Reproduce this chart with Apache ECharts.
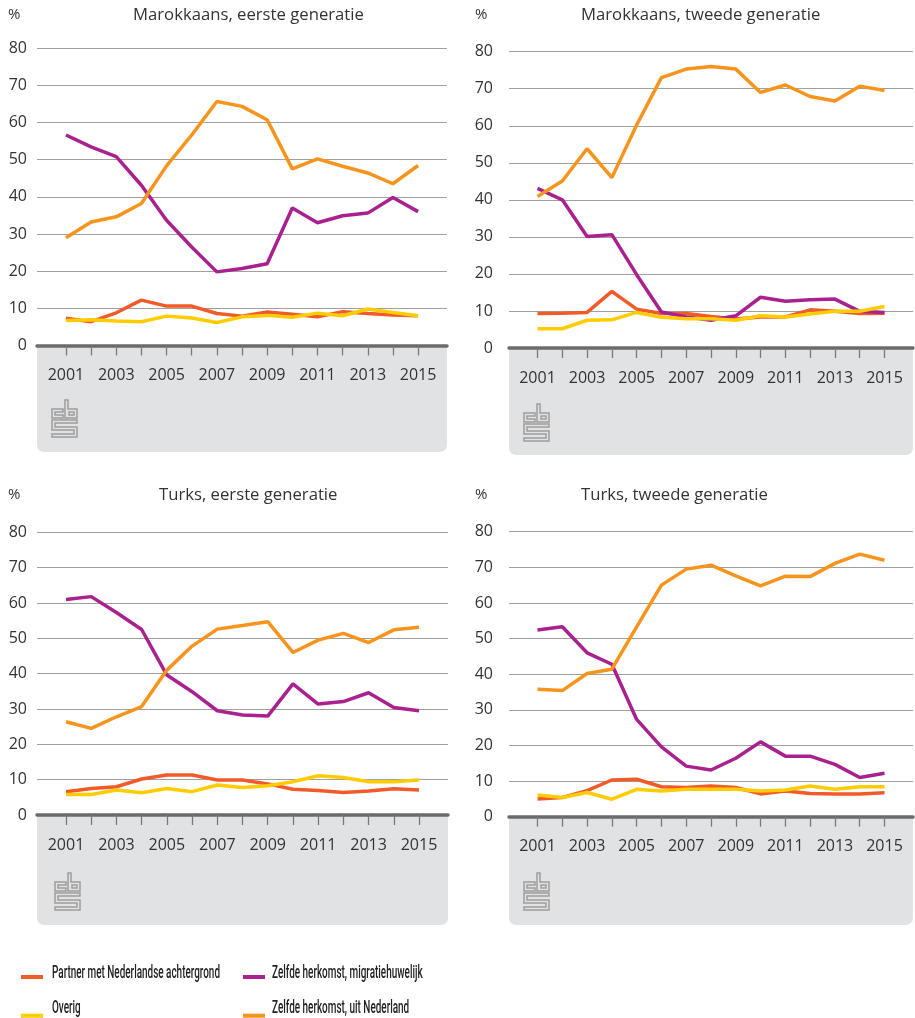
<!DOCTYPE html>
<html>
<head>
<meta charset="utf-8">
<script src="https://cdn.jsdelivr.net/npm/echarts@6/dist/echarts.min.js"></script>
<style>
  html, body { margin: 0; padding: 0; background: #fff; }
  #chart { width: 915px; height: 1018px; }
</style>
</head>
<body>
<div id="chart"></div>
<script>
// jaren op de x-as
const years = [2001, 2002, 2003, 2004, 2005, 2006, 2007, 2008, 2009, 2010, 2011, 2012, 2013, 2014, 2015]
const yearLabels = [2001, 2003, 2005, 2007, 2009, 2011, 2013, 2015]

const nameColors = {
  'Partner met Nederlandse achtergrond': '#f15a29',
  'Overig': '#ffcc00',
  'Zelfde herkomst, migratiehuwelijk': '#a8218e',
  'Zelfde herkomst, uit Nederland': '#f7941d'
}

// Marokkaans, eerste generatie
const marEerstePartner = [7.3, 6.4, 8.8, 12.2, 10.6, 10.6, 8.6, 7.9, 9.0, 8.4, 7.7, 9.1, 8.6, 8.2, 8.0]
const marEersteOverig = [6.7, 6.9, 6.6, 6.4, 7.9, 7.4, 6.2, 7.7, 8.1, 7.6, 8.7, 8.0, 9.8, 8.9, 8.0]
const marEersteMigratie = [56.6, 53.4, 50.8, 43.1, 33.7, 26.5, 19.8, 20.7, 22.0, 37.0, 33.0, 34.9, 35.6, 39.8, 36.0]
const marEersteUitNL = [29.0, 33.2, 34.6, 38.2, 48.3, 56.6, 65.6, 64.3, 60.7, 47.5, 50.2, 48.2, 46.4, 43.5, 48.4]

// Marokkaans, tweede generatie
const marTweedePartner = [9.3, 9.4, 9.6, 15.3, 10.5, 9.3, 9.3, 8.5, 7.8, 8.4, 8.4, 10.3, 9.9, 9.3, 9.4]
const marTweedeOverig = [5.2, 5.2, 7.5, 7.6, 9.6, 8.3, 7.9, 7.9, 7.5, 8.7, 8.4, 9.2, 9.9, 9.9, 11.2]
const marTweedeMigratie = [43.1, 40.0, 30.1, 30.6, 19.8, 9.7, 8.4, 7.5, 8.7, 13.7, 12.6, 13.0, 13.2, 9.9, 9.6]
const marTweedeUitNL = [40.9, 45.1, 53.8, 46.0, 60.2, 73.0, 75.3, 76.0, 75.3, 69.0, 71.0, 67.9, 66.7, 70.7, 69.5]

// Turks, eerste generatie
const turEerstePartner = [6.6, 7.5, 8.0, 10.2, 11.3, 11.3, 9.9, 9.9, 8.8, 7.3, 6.9, 6.4, 6.8, 7.4, 7.1]
const turEersteOverig = [5.8, 5.8, 7.1, 6.3, 7.5, 6.6, 8.5, 7.8, 8.3, 9.4, 11.1, 10.6, 9.4, 9.4, 9.9]
const turEersteMigratie = [61.0, 61.8, 57.3, 52.5, 39.6, 34.9, 29.5, 28.3, 28.0, 37.1, 31.4, 32.1, 34.6, 30.4, 29.5]
const turEersteUitNL = [26.4, 24.5, 27.8, 30.7, 41.0, 47.8, 52.6, 53.6, 54.7, 46.0, 49.5, 51.4, 48.8, 52.4, 53.1]

// Turks, tweede generatie
const turTweedePartner = [5.0, 5.4, 7.3, 10.3, 10.5, 8.4, 8.2, 8.6, 8.2, 6.4, 7.2, 6.5, 6.4, 6.4, 6.7]
const turTweedeOverig = [6.1, 5.4, 6.8, 4.9, 7.7, 7.2, 7.7, 7.7, 7.7, 7.2, 7.5, 8.6, 7.7, 8.4, 8.4]
const turTweedeMigratie = [52.4, 53.3, 46.0, 42.8, 27.3, 19.6, 14.2, 13.1, 16.4, 21.0, 17.0, 17.0, 14.7, 11.0, 12.2]
const turTweedeUitNL = [35.8, 35.4, 40.2, 41.4, 53.3, 65.0, 69.5, 70.6, 67.6, 64.8, 67.5, 67.4, 71.1, 73.7, 72.0]

const panels = [
  {
    title: 'Marokkaans, eerste generatie',
    lines: {
      'Partner met Nederlandse achtergrond': marEerstePartner,
      'Zelfde herkomst, migratiehuwelijk': marEersteMigratie,
      'Zelfde herkomst, uit Nederland': marEersteUitNL,
      'Overig': marEersteOverig
    }
  },
  {
    title: 'Marokkaans, tweede generatie',
    lines: {
      'Partner met Nederlandse achtergrond': marTweedePartner,
      'Zelfde herkomst, migratiehuwelijk': marTweedeMigratie,
      'Zelfde herkomst, uit Nederland': marTweedeUitNL,
      'Overig': marTweedeOverig
    }
  },
  {
    title: 'Turks, eerste generatie',
    lines: {
      'Partner met Nederlandse achtergrond': turEerstePartner,
      'Zelfde herkomst, migratiehuwelijk': turEersteMigratie,
      'Zelfde herkomst, uit Nederland': turEersteUitNL,
      'Overig': turEersteOverig
    }
  },
  {
    title: 'Turks, tweede generatie',
    lines: {
      'Partner met Nederlandse achtergrond': turTweedePartner,
      'Zelfde herkomst, migratiehuwelijk': turTweedeMigratie,
      'Zelfde herkomst, uit Nederland': turTweedeUitNL,
      'Overig': turTweedeOverig
    }
  }
]

// legenda in twee kolommen
const legendCol1 = ['Partner met Nederlandse achtergrond', 'Overig']
const legendCol2 = ['Zelfde herkomst, migratiehuwelijk', 'Zelfde herkomst, uit Nederland']

/** layout per paneel (pixels) */
const layouts = [
  { left: 37, width: 410, top: 48, height: 297.5, boxBottom: 452, titleX: 133, titleY: 7, pctX: 8, labelMargin: 10, logo: [52, 400] },
  { left: 509, width: 404, top: 51.7, height: 296.3, boxBottom: 455, titleX: 581, titleY: 7, pctX: 475, labelMargin: 16, logo: [524, 404] },
  { left: 37, width: 411, top: 532.3, height: 282.7, boxBottom: 925, titleX: 159, titleY: 487, pctX: 8, labelMargin: 10, logo: [55, 873] },
  { left: 509, width: 404, top: 531.7, height: 285, boxBottom: 925, titleX: 581, titleY: 487, pctX: 475, labelMargin: 16, logo: [524, 873] }
]

const FONT = "'Open Sans', 'Noto Sans', sans-serif"
const LEGEND_FONT = "Roboto, sans-serif"
const LEGEND_SIZE = 19
const TEXT_COLOR = '#333'
const PAD = 1.15 // ruimte links/rechts van 2001 en 2015, in jaren

/** CBS-logo als omlijnde vormen */
function cbsLogo(x, y) {
  const style = { fill: 'none', stroke: '#9d9d9d', lineWidth: 1.5 }
  return {
    type: 'group',
    x, y,
    silent: true,
    children: [
      { type: 'polygon', shape: { points: [[0, 9], [11, 9], [11, 12], [3, 12], [3, 15], [11, 15], [11, 18], [0, 18]] }, style },
      { type: 'polygon', shape: { points: [[13, 0], [16, 0], [16, 9], [25, 9], [25, 18], [13, 18]] }, style },
      { type: 'rect', shape: { x: 17, y: 12, width: 5, height: 3 }, style },
      { type: 'polygon', shape: { points: [[0, 20], [25, 20], [25, 23], [3, 23], [3, 27], [25, 27], [25, 37], [0, 37], [0, 34], [22, 34], [22, 30], [0, 30]] }, style }
    ]
  }
}

/** smalle legendatekst: gewone tekst, horizontaal ingedrukt zoals het CBS-font */
function condensedScale() {
  const ctx = document.createElement('canvas').getContext('2d')
  ctx.font = '500 ' + LEGEND_SIZE + 'px ' + LEGEND_FONT
  return 168 / ctx.measureText(legendCol1[0]).width
}
const legendScale = condensedScale()

function legendText(text, x, y) {
  return {
    type: 'text',
    x, y,
    scaleX: legendScale,
    silent: true,
    style: {
      text,
      fontSize: LEGEND_SIZE,
      fontWeight: 500,
      fontFamily: LEGEND_FONT,
      fill: '#222',
      verticalAlign: 'middle'
    }
  }
}

const grids = []
const xAxes = []
const yAxes = []
const series = []
const titles = []
const graphics = []

panels.forEach((p, i) => {
  const l = layouts[i]
  grids.push({ left: l.left, top: l.top, width: l.width, height: l.height })

  xAxes.push({
    type: 'value',
    gridIndex: i,
    min: years[0] - PAD,
    max: years[years.length - 1] + PAD,
    axisLine: { show: true, onZero: false, lineStyle: { color: '#6b6b6b', width: 3.5 } },
    axisTick: { show: true, customValues: years, length: 10, lineStyle: { color: '#7a7a7a', width: 1.3 } },
    axisLabel: {
      customValues: yearLabels,
      margin: 22,
      fontSize: 16,
      fontFamily: FONT,
      color: TEXT_COLOR,
      formatter: v => String(v)
    },
    splitLine: { show: false }
  })

  yAxes.push({
    type: 'value',
    gridIndex: i,
    min: 0,
    max: 80,
    interval: 10,
    axisLine: { show: false },
    axisTick: { show: false },
    axisLabel: { margin: l.labelMargin, fontSize: 16, fontFamily: FONT, color: TEXT_COLOR },
    splitLine: { lineStyle: { color: '#a0a0a0', width: 1 } }
  })

  Object.keys(p.lines).forEach(name => {
    series.push({
      name,
      type: 'line',
      xAxisIndex: i,
      yAxisIndex: i,
      data: years.map((y, k) => [y, p.lines[name][k]]),
      symbol: 'none',
      lineStyle: { width: 3.5, color: nameColors[name] },
      itemStyle: { color: nameColors[name] },
      emphasis: { disabled: true },
      z: 3
    })
  })

  titles.push({
    text: p.title,
    left: l.titleX,
    top: l.titleY,
    padding: 0,
    textStyle: { fontSize: 16.7, fontWeight: 'normal', fontFamily: FONT, color: TEXT_COLOR }
  })
  titles.push({
    text: '%',
    left: l.pctX,
    top: l.titleY,
    padding: 0,
    textStyle: { fontSize: 15, fontWeight: 'normal', fontFamily: FONT, color: TEXT_COLOR }
  })

  // grijs vlak onder de x-as
  const y0 = l.top + l.height
  graphics.push({
    type: 'rect',
    z: -10,
    silent: true,
    shape: { x: l.left, y: y0, width: l.width, height: l.boxBottom - y0, r: [0, 0, 7, 7] },
    style: { fill: '#e1e2e4' }
  })
  graphics.push(cbsLogo(l.logo[0], l.logo[1]))
})

graphics.push(legendText(legendCol1[0], 52, 973))
graphics.push(legendText(legendCol1[1], 52, 1008))
graphics.push(legendText(legendCol2[0], 272, 973))
graphics.push(legendText(legendCol2[1], 272, 1008))

const legendCommon = {
  orient: 'vertical',
  icon: 'rect',
  itemWidth: 22,
  itemHeight: 4,
  itemGap: 34.7,
  padding: 0,
  formatter: () => '',
  textStyle: { fontSize: 1 }
}

const option = {
  animation: false,
  backgroundColor: '#fff',
  title: titles,
  grid: grids,
  xAxis: xAxes,
  yAxis: yAxes,
  series,
  graphic: graphics,
  legend: [
    Object.assign({}, legendCommon, { left: 21, top: 975, data: legendCol1 }),
    Object.assign({}, legendCommon, { left: 243, top: 975, data: legendCol2 })
  ]
}

const chart = echarts.init(document.getElementById('chart'))
chart.setOption(option)
window.addEventListener('resize', () => chart.resize())
</script>
</body>
</html>
